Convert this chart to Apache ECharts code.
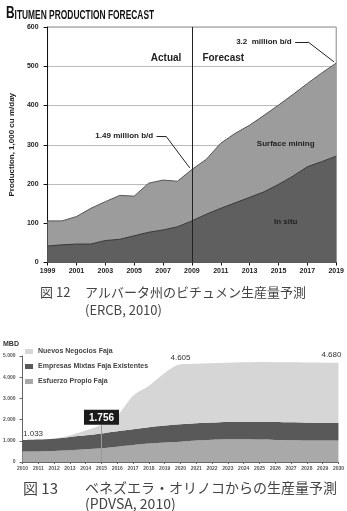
<!DOCTYPE html>
<html>
<head>
<meta charset="utf-8">
<script src="https://cdn.jsdelivr.net/npm/echarts@6/dist/echarts.min.js"></script>
<style>
  html, body { margin: 0; padding: 0; background: #fff; }
  #chart { width: 347px; height: 511px; }
</style>
</head>
<body>
<div id="chart"></div>
<script>
  // fig 12 - bitumen production, 1,000 cu m/day
  const bitumenYears = [1999, 2000, 2001, 2002, 2003, 2004, 2005, 2006, 2007, 2008, 2009,
    2010, 2011, 2012, 2013, 2014, 2015, 2016, 2017, 2018, 2019]
  const inSitu = [42, 45, 47, 47, 56, 59, 68, 77, 83, 91, 106, 123, 138, 152, 166, 180, 199, 220, 244, 257, 271]
  const surfaceMining = [64, 61, 70, 91, 99, 112, 101, 125, 127, 116, 131, 140, 166, 177, 184, 195, 202, 208, 212, 226, 237]
  const bitumenTicks = [1999, 2001, 2003, 2005, 2007, 2009, 2011, 2013, 2015, 2017, 2019]

  // fig 13 - orinoco production, MBD
  const orinocoYears = ['2010', '2011', '2012', '2013', '2014', '2015', '2016', '2017', '2018', '2019', '2020',
    '2021', '2022', '2023', '2024', '2025', '2026', '2027', '2028', '2029', '2030']
  const esfuerzoPropio = [493, 500, 520, 550, 600, 651, 720, 800, 870, 920, 958, 1010, 1050, 1070, 1070, 1060, 1040, 1030, 1020, 1010, 1005]
  const empresasMixtas = [540, 560, 580, 630, 660, 698, 730, 750, 770, 800, 823, 820, 810, 818, 825, 835, 848, 840, 835, 835, 837]
  const nuevosNegocios = [0, 0, 10, 70, 220, 407, 750, 1580, 1960, 2480, 2824, 2810, 2800, 2792, 2805, 2825, 2822, 2830, 2835, 2840, 2838]

  const sans = "'Liberation Sans', Arial, sans-serif"
  const cjk = "'Noto Sans CJK JP', sans-serif"

  const annot = { fontSize: 8, fontWeight: 'bold', color: '#222', fontFamily: sans }
  const noMark = { symbol: 'circle', symbolSize: 1, itemStyle: { color: 'rgba(0,0,0,0)' } }

  // value x axis can't stack, so surface mining is drawn as the total with in situ on top
  const bitumenTotal = bitumenYears.map((y, i) => [y, inSitu[i] + surfaceMining[i]])

  const chart = echarts.init(document.getElementById('chart'))

  const option = {
    animation: false,
    title: [
      {
        text: 'MBD',
        left: 3,
        top: 341,
        padding: 0,
        textStyle: { fontSize: 7, fontWeight: 'bold', color: '#333', fontFamily: sans }
      }
    ],
    legend: {
      data: ['Nuevos Negocios Faja', 'Empresas Mixtas Faja Existentes', 'Esfuerzo Propio Faja'],
      orient: 'vertical',
      left: 25,
      top: 348,
      padding: 0,
      itemWidth: 8,
      itemHeight: 5,
      itemGap: 8,
      icon: 'rect',
      textStyle: { fontSize: 7, fontWeight: 'bold', color: '#444', fontFamily: sans }
    },
    grid: [
      { left: 35, right: 7, top: 27, bottom: 248.5, show: true, borderColor: '#888', borderWidth: 1 },
      { left: 22, right: 5, top: 356, bottom: 49 }
    ],
    xAxis: [
      {
        type: 'value',
        gridIndex: 0,
        min: 1999,
        max: 2019,
        axisLine: { lineStyle: { color: '#111' } },
        axisTick: { customValues: bitumenTicks, length: 3, lineStyle: { color: '#111' } },
        axisLabel: {
          customValues: bitumenTicks,
          formatter: v => String(v),
          fontSize: 7, fontWeight: 'bold', color: '#222', margin: 5, fontFamily: sans
        },
        splitLine: { show: false }
      },
      {
        type: 'category',
        gridIndex: 1,
        data: orinocoYears,
        boundaryGap: false,
        axisLine: { lineStyle: { color: '#666' } },
        axisTick: { length: 2, interval: 0, lineStyle: { color: '#666' } },
        axisLabel: { interval: 0, fontSize: 5, fontWeight: 'bold', color: '#555', margin: 4, fontFamily: sans }
      }
    ],
    yAxis: [
      {
        type: 'value',
        gridIndex: 0,
        min: 0,
        max: 600,
        interval: 100,
        name: 'Production, 1,000 cu m/day',
        nameLocation: 'middle',
        nameGap: 28,
        nameTextStyle: { fontSize: 8, fontWeight: 'bold', color: '#222', fontFamily: sans },
        axisLine: { show: true, lineStyle: { color: '#111' } },
        axisTick: { show: true, length: 4, lineStyle: { color: '#111' } },
        axisLabel: { fontSize: 7, fontWeight: 'bold', color: '#222', margin: 9, fontFamily: sans },
        splitLine: { lineStyle: { color: '#bbb' } }
      },
      {
        type: 'value',
        gridIndex: 1,
        min: 0,
        max: 5000,
        interval: 1000,
        axisLine: { show: true, lineStyle: { color: '#666' } },
        axisTick: { show: true, length: 3, lineStyle: { color: '#666' } },
        axisLabel: {
          formatter: v => v === 0 ? '0' : (v / 1000) + '.000',
          fontSize: 5, fontWeight: 'bold', color: '#555', margin: 7, fontFamily: sans
        },
        splitLine: { show: false }
      }
    ],
    series: [
      {
        name: 'Surface mining',
        type: 'line',
        xAxisIndex: 0,
        yAxisIndex: 0,
        data: bitumenTotal,
        symbol: 'none',
        lineStyle: { color: '#555', width: 1 },
        itemStyle: { color: '#9c9c9c' },
        areaStyle: { color: '#9c9c9c', opacity: 1 }
      },
      {
        name: 'In situ',
        type: 'line',
        xAxisIndex: 0,
        yAxisIndex: 0,
        data: bitumenYears.map((y, i) => [y, inSitu[i]]),
        symbol: 'none',
        lineStyle: { color: '#3a3a3a', width: 1 },
        itemStyle: { color: '#5f5f5f' },
        areaStyle: { color: '#5f5f5f', opacity: 1 },
        markLine: {
          silent: true,
          symbol: 'none',
          label: { show: false },
          lineStyle: { color: '#222', width: 1, type: 'solid' },
          data: [
            [{ coord: [2009, 0] }, { coord: [2009, 600] }],
            [{ coord: [2016.15, 562] }, { coord: [2017.05, 562] }],
            [{ coord: [2017.05, 562] }, { coord: [2018.85, 511] }],
            [{ coord: [2006.55, 322] }, { coord: [2007.2, 322] }],
            [{ coord: [2007.2, 322] }, { coord: [2008.85, 241] }]
          ]
        },
        markPoint: Object.assign({}, noMark, {
          label: Object.assign({ show: true, formatter: p => p.name }, annot),
          data: [
            { name: '3.2  million b/d', coord: [2015.95, 562], label: { position: 'left', distance: 0 } },
            { name: '1.49 million b/d', coord: [2006.35, 322], label: { position: 'left', distance: 0 } },
            { name: 'Actual', coord: [2009, 521], label: { position: 'left', distance: 10, fontSize: 10 } },
            { name: 'Forecast', coord: [2009, 521], label: { position: 'right', distance: 10, fontSize: 10 } },
            { name: 'Surface mining', coord: [2015.5, 302], label: { position: 'inside' } },
            { name: 'In situ', coord: [2015.5, 104], label: { position: 'inside' } }
          ]
        })
      },
      {
        name: 'Esfuerzo Propio Faja',
        type: 'line',
        stack: 'orinoco',
        xAxisIndex: 1,
        yAxisIndex: 1,
        data: esfuerzoPropio,
        smooth: 0.3,
        symbol: 'none',
        lineStyle: { width: 0 },
        itemStyle: { color: '#a9a9a9' },
        areaStyle: { color: '#a9a9a9', opacity: 1 }
      },
      {
        name: 'Empresas Mixtas Faja Existentes',
        type: 'line',
        stack: 'orinoco',
        xAxisIndex: 1,
        yAxisIndex: 1,
        data: empresasMixtas,
        smooth: 0.3,
        symbol: 'none',
        lineStyle: { width: 0 },
        itemStyle: { color: '#595959' },
        areaStyle: { color: '#595959', opacity: 1 }
      },
      {
        name: 'Nuevos Negocios Faja',
        type: 'line',
        stack: 'orinoco',
        xAxisIndex: 1,
        yAxisIndex: 1,
        data: nuevosNegocios,
        smooth: 0.3,
        symbol: 'none',
        lineStyle: { width: 0 },
        itemStyle: { color: '#d6d6d6' },
        areaStyle: { color: '#d6d6d6', opacity: 1 },
        markLine: {
          silent: true,
          symbol: 'none',
          lineStyle: { color: '#999', width: 1, type: 'solid' },
          label: {
            show: true,
            position: 'end',
            formatter: '1.756',
            backgroundColor: '#1b1b1b',
            color: '#fff',
            fontSize: 10,
            fontWeight: 'bold',
            fontFamily: sans,
            padding: [3, 5, 2, 5],
            distance: 0
          },
          data: [[{ coord: ['2015', 0] }, { coord: ['2015', 1756] }]]
        },
        markPoint: Object.assign({}, noMark, {
          label: { show: true, formatter: p => p.name, fontSize: 8, color: '#333', fontFamily: sans },
          data: [
            { name: '1.033', coord: ['2010', 1033], label: { position: 'right', distance: 0, offset: [0, -6] } },
            { name: '4.605', coord: ['2020', 4605], label: { position: 'top', distance: 2 } },
            { name: '4.680', coord: ['2030', 4680], label: { position: 'top', distance: 3, offset: [-7, 0] } }
          ]
        })
      }
    ],
    graphic: [
      {
        // small-caps title, squeezed to look condensed
        type: 'text',
        x: 6,
        y: 5,
        scaleX: 0.7,
        style: {
          text: '{a|B}{b|ITUMEN PRODUCTION FORECAST}',
          verticalAlign: 'top',
          rich: {
            a: { font: 'bold 17px ' + sans, fill: '#111', verticalAlign: 'bottom' },
            b: { font: 'bold 12px ' + sans, fill: '#111', verticalAlign: 'bottom' }
          }
        }
      },
      { type: 'text', left: 40, top: 286, style: { text: '図 12', font: '13px ' + cjk, fill: '#444' } },
      { type: 'text', left: 85, top: 286, style: { text: 'アルバータ州のビチュメン生産量予測', font: '13px ' + cjk, fill: '#444' } },
      { type: 'text', left: 85, top: 304, style: { text: '(ERCB, 2010)', font: '13px ' + cjk, fill: '#444' } },
      { type: 'text', left: 23, top: 481, style: { text: '図 13', font: '15px ' + cjk, fill: '#444' } },
      { type: 'text', left: 85, top: 481, style: { text: 'ベネズエラ・オリノコからの生産量予測', font: '14px ' + cjk, fill: '#444' } },
      { type: 'text', left: 85, top: 497, style: { text: '(PDVSA, 2010)', font: '14px ' + cjk, fill: '#444' } }
    ]
  }

  chart.setOption(option)
</script>
</body>
</html>
